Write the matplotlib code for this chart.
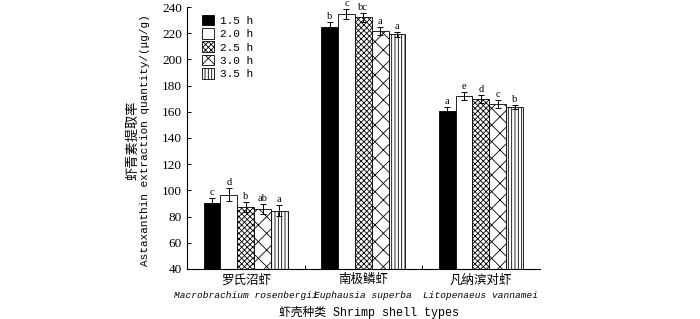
import numpy as np
import matplotlib
matplotlib.use("Agg")
import matplotlib.pyplot as plt

plt.rcParams["hatch.linewidth"] = 0.6

categories_cn = ["罗氏沼虾", "南极鳞虾", "凡纳滨对虾"]
categories_lat = ["Macrobrachium rosenbergii", "Euphausia superba", "Litopenaeus vannamei"]
times = ["1.5 h", "2.0 h", "2.5 h", "3.0 h", "3.5 h"]

# rows: extraction time, cols: shrimp species
means = [
    [90.0, 224.8, 160.8],
    [96.6, 234.8, 172.2],
    [87.4, 232.2, 169.8],
    [85.9, 221.8, 166.0],
    [84.6, 219.2, 163.6],
]
errors = [
    [4.0, 4.0, 3.0],
    [5.0, 4.0, 3.0],
    [4.0, 3.5, 3.0],
    [4.0, 3.0, 3.0],
    [4.0, 2.0, 1.5],
]
letters = [
    ["c", "b", "a"],
    ["d", "c", "e"],
    ["b", "bc", "d"],
    ["ab", "a", "c"],
    ["a", "a", "b"],
]

colors = ["black", "white", "white", "white", "white"]
hatches = [None, None, "xxxxxx", "xx", "|||||"]

mono = ["Liberation Mono", "Noto Sans CJK SC"]
serif = ["Liberation Serif", "Noto Sans CJK SC"]

fig = plt.figure(figsize=(7.0, 3.19), dpi=100)
ax = fig.add_axes([0.267, 0.157, 0.504, 0.821])

x = np.arange(len(categories_cn))
width = 0.143
for i, t in enumerate(times):
    pos = x + (i - 2) * width
    ax.bar(pos, means[i], width, color=colors[i], edgecolor="black",
           linewidth=0.6, hatch=hatches[i], label=t)
    ax.errorbar(pos, means[i], yerr=errors[i], fmt="none", ecolor="black",
                elinewidth=0.7, capsize=2.5, capthick=0.7)
    for j in range(len(x)):
        ax.text(pos[j], means[i][j] + errors[i][j] + 0.6, letters[i][j],
                ha="center", va="bottom", fontsize=7.5, family=serif)

ax.set_xlim(-0.5, 2.5)
ax.set_ylim(40, 240)
ax.set_yticks(np.arange(40, 241, 20))
ax.set_xticks(x)
ax.set_xticklabels([])
ax.set_xticks([0.5, 1.5], minor=True)
ax.tick_params(axis="x", which="major", length=0)
ax.tick_params(axis="x", which="minor", direction="in", length=3, width=0.7)
ax.tick_params(axis="y", direction="in", length=3, width=0.7, labelsize=9.5)
for lab in ax.get_yticklabels():
    lab.set_family(serif)
for s in ["top", "right"]:
    ax.spines[s].set_visible(False)
for s in ["left", "bottom"]:
    ax.spines[s].set_linewidth(0.8)

for j in range(len(x)):
    ax.text(x[j], -0.02, categories_cn[j], transform=ax.get_xaxis_transform(),
            ha="center", va="top", fontsize=9, family=serif)
    ax.text(x[j], -0.085, categories_lat[j], transform=ax.get_xaxis_transform(),
            ha="center", va="top", fontsize=6.8, family=mono, style="italic")

ax.text(0.515, -0.14, "虾壳种类 Shrimp shell types", transform=ax.transAxes,
        ha="center", va="top", fontsize=8.5, family=mono)

fig.text(0.19, 0.56, "虾青素提取率", rotation=90, ha="center", va="center",
         fontsize=9.5, family=serif)
fig.text(0.207, 0.56, "Astaxanthin extraction quantity/(μg/g)", rotation=90,
         ha="center", va="center", fontsize=8, family=mono)

leg = ax.legend(loc="upper left", bbox_to_anchor=(0.02, 1.0), frameon=False,
                fontsize=8, handlelength=1.1, handleheight=1.1,
                handletextpad=0.5, labelspacing=0.2, borderpad=0.2)
for t in leg.get_texts():
    t.set_family(mono)

fig.savefig("out.png", dpi=100)
